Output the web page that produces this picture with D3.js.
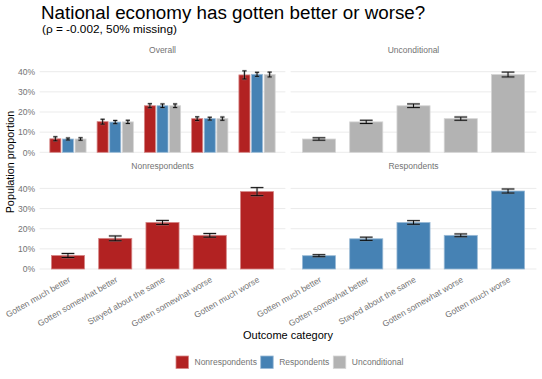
<!DOCTYPE html>
<html>
<head>
<meta charset="utf-8">
<script src="https://cdn.jsdelivr.net/npm/d3@7"></script>
<style>
  body { margin: 0; background: #fff; }
  svg { font-family: "Liberation Sans", Arial, sans-serif; }
</style>
</head>
<body>
<div id="chart"></div>
<script>
// categories and groups
const categories = ["Gotten much better", "Gotten somewhat better", "Stayed about the same",
  "Gotten somewhat worse", "Gotten much worse"];
const groups = ["Nonrespondents", "Respondents", "Unconditional"];
const groupColors = ["#B22222", "#4682B4", "#B3B3B3"];

// proportions (%) and error half-widths
const nonrespValues = [6.7, 15.2, 23.1, 16.7, 38.4];
const nonrespErr = [1.0, 1.2, 1.0, 0.9, 2.0];
const respValues = [6.6, 15.0, 23.1, 16.7, 38.7];
const respErr = [0.5, 0.8, 0.9, 0.7, 1.0];
const uncondValues = [6.6, 15.1, 23.1, 16.7, 38.6];
const uncondErr = [0.6, 0.8, 0.9, 0.8, 1.2];
const yTicks = [0, 10, 20, 30, 40];

const width = 542, height = 379;
const textGray = "#737373";
const svg = d3.select("#chart").append("svg")
  .attr("width", width).attr("height", height);

const seriesData = {
  Nonrespondents: categories.map((c, i) => ({ cat: c, group: "Nonrespondents", v: nonrespValues[i], e: nonrespErr[i] })),
  Respondents: categories.map((c, i) => ({ cat: c, group: "Respondents", v: respValues[i], e: respErr[i] })),
  Unconditional: categories.map((c, i) => ({ cat: c, group: "Unconditional", v: uncondValues[i], e: uncondErr[i] }))
};
const color = d3.scaleOrdinal().domain(groups).range(groupColors);

const panels = [
  { title: "Overall", col: 0, row: 0, series: groups },
  { title: "Unconditional", col: 1, row: 0, series: ["Unconditional"] },
  { title: "Nonrespondents", col: 0, row: 1, series: ["Nonrespondents"] },
  { title: "Respondents", col: 1, row: 1, series: ["Respondents"] }
];
const cols = [[39.6, 285.4], [290.6, 536.4]];
const rows = [[66.4, 156.4], [183.1, 273.1]];
const stripY = [51, 167];

// titles
svg.append("text").attr("x", 41).attr("y", 19)
  .attr("font-size", 18.8).attr("fill", "#000")
  .text("National economy has gotten better or worse?");
svg.append("text").attr("x", 42).attr("y", 32.5)
  .attr("font-size", 11.8).attr("fill", "#000")
  .text("(ρ = -0.002, 50% missing)");

panels.forEach(p => {
  const [x0, x1] = cols[p.col];
  const [y0, y1] = rows[p.row];
  const x = d3.scaleBand().domain(categories).range([x0, x1])
    .paddingInner(0).paddingOuter(0.1);
  const y = d3.scaleLinear().domain([-2.03, 42.63]).range([y1, y0]);
  const g = svg.append("g");

  // gridlines
  g.selectAll(".grid").data(yTicks).join("line")
    .attr("x1", x0).attr("x2", x1)
    .attr("y1", d => y(d)).attr("y2", d => y(d))
    .attr("stroke", "#EBEBEB").attr("stroke-width", 1);

  // strip
  g.append("text").attr("x", (x0 + x1) / 2).attr("y", stripY[p.row])
    .attr("text-anchor", "middle").attr("dominant-baseline", "middle")
    .attr("font-size", 8.5).attr("fill", textGray).text(p.title);

  // y axis on left column
  if (p.col === 0) {
    const ay = g.append("g").attr("transform", `translate(${x0},0)`)
      .call(d3.axisLeft(y).tickValues(yTicks).tickFormat(d => d + "%").tickSize(0).tickPadding(4.5));
    ay.select(".domain").remove();
    ay.selectAll("text").attr("font-size", 8.5).attr("fill", textGray)
      .attr("font-family", "Liberation Sans, Arial, sans-serif");
  }
  // x axis on bottom row
  if (p.row === 1) {
    const ax = g.append("g").attr("transform", `translate(0,${y1})`)
      .call(d3.axisBottom(x).tickSize(0).tickPadding(0));
    ax.select(".domain").remove();
    ax.selectAll("text")
      .attr("font-size", 8.5).attr("fill", textGray)
      .attr("font-family", "Liberation Sans, Arial, sans-serif")
      .attr("text-anchor", "end")
      .attr("y", 0).attr("dy", "0.72em")
      .attr("transform", "translate(0,3) rotate(-30)");
  }

  // bars
  const n = p.series.length;
  const step = x.step();
  const dodge = 0.8 * step, barW = (n === 1 ? 0.7 : 0.7 / n) * step;
  const capW = (n === 1 ? 0.27 : 0.09) * step;
  p.series.forEach((s, si) => {
    const off = n === 1 ? 0 : (si - (n - 1) / 2) * dodge / n;
    const cx = d => x(d.cat) + x.bandwidth() / 2 + off;
    const c = color(s);
    g.selectAll(".bar-" + si).data(seriesData[s]).join("rect")
      .attr("x", d => cx(d) - barW / 2).attr("width", barW)
      .attr("y", d => y(d.v)).attr("height", d => y(0) - y(d.v))
      .attr("fill", c)
      .attr("stroke", d3.interpolateRgb(c, "#fff")(0.45)).attr("stroke-width", 0.8);

    const eb = g.selectAll(".err-" + si).data(seriesData[s]).join("g");
    [["#8c8c8c", 2.4, 0.45], ["#000", 0.9, 1]].forEach(([sc, sw, op]) => {
      eb.append("path")
        .attr("d", d => {
          const xc = cx(d), lo = y(d.v - d.e), hi = y(d.v + d.e);
          return `M${xc - capW / 2},${hi}H${xc + capW / 2}M${xc},${hi}V${lo}M${xc - capW / 2},${lo}H${xc + capW / 2}`;
        })
        .attr("fill", "none").attr("stroke", sc).attr("stroke-width", sw).attr("stroke-opacity", op);
    });
  });
});

// axis titles
svg.append("text").attr("transform", "translate(13.5,162) rotate(-90)")
  .attr("text-anchor", "middle").attr("font-size", 10.8).attr("fill", "#000")
  .text("Population proportion");
svg.append("text").attr("x", 288).attr("y", 339)
  .attr("text-anchor", "middle").attr("font-size", 11).attr("fill", "#000")
  .text("Outcome category");

// legend
const legendX = [176, 260.7, 333.3];
const leg = svg.append("g");
groups.forEach((grp, i) => {
  leg.append("rect").attr("x", legendX[i]).attr("y", 356).attr("width", 12.5).attr("height", 12.5)
    .attr("fill", color(grp))
    .attr("stroke", d3.interpolateRgb(color(grp), "#fff")(0.45)).attr("stroke-width", 0.8);
  leg.append("text").attr("x", legendX[i] + 18.5).attr("y", 362.3)
    .attr("dominant-baseline", "middle").attr("font-size", 8.5).attr("fill", textGray)
    .text(grp);
});
</script>
</body>
</html>
